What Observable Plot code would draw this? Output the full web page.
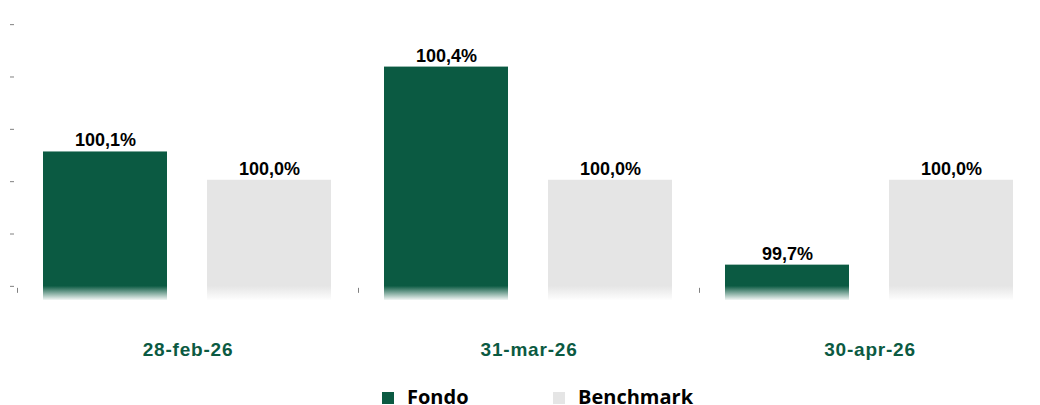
<!DOCTYPE html>
<html><head><meta charset="utf-8">
<script src="https://cdn.jsdelivr.net/npm/d3@7"></script>
<script src="https://cdn.jsdelivr.net/npm/@observablehq/plot@0.6"></script>
<style>
html,body{margin:0;padding:0;background:#fff;overflow:hidden;}
#legend{position:relative;height:26px;padding-top:0;font-family:"Open Sans",sans-serif;font-weight:700;font-size:20px;line-height:20px;color:#000;}
.item{position:absolute;top:7px;white-space:nowrap;}
.sw{display:inline-block;width:12px;height:12px;margin-right:13px;}
</style></head><body>
<div id="chart"></div>
<div id="legend"></div>
<script>
// ---- data ----
const dates = ["28-feb-26", "31-mar-26", "30-apr-26"];
const series = ["Fondo", "Benchmark"];
const fondo = [100.1, 100.4, 99.7];
const benchmark = [100.0, 100.0, 100.0];
const yTicks = [99.625, 99.81, 99.995, 100.18, 100.365, 100.55];
const axisBase = 99.625;   // where the solid bar ends and the fade begins
const fadeEnd = 99.575;    // bottom of the faded bar foot
const xAxisAt = 99.618;    // level of category boundary tick marks
const yTop = 100.6;
const colors = {Fondo: "#0b5a42", Benchmark: "#e5e5e5"};

const data = dates.flatMap((d, i) => [
  {date: d, series: series[0], value: fondo[i]},
  {date: d, series: series[1], value: benchmark[i]}
]);
const fmt = v => v.toFixed(1).replace(".", ",") + "%";

const chart = Plot.plot({
  width: 1040, height: 380,
  marginLeft: 17, marginRight: 0, marginTop: 10, marginBottom: 80,
  style: {fontFamily: "'Liberation Sans', Arial, sans-serif", background: "#fff", overflow: "visible"},
  fx: {domain: dates, padding: 0, label: null},
  x: {domain: series, paddingInner: 40 / 165, paddingOuter: 26 / 165, axis: null, label: null},
  y: {domain: [fadeEnd, yTop], axis: null, label: null},
  marks: [
    Plot.barY(data.filter(d => d.series === "Fondo"), {fx: "date", x: "series", y1: d => fadeEnd, y2: "value", fill: "url(#gFondo)"}),
    Plot.barY(data.filter(d => d.series === "Benchmark"), {fx: "date", x: "series", y1: d => fadeEnd, y2: "value", fill: "url(#gBench)"}),
    Plot.text(data, {fx: "date", x: "series", y: "value", text: d => fmt(d.value), lineAnchor: "bottom", dy: -5.5, fontSize: 18, fontWeight: "bold", fill: "#000"}),
    Plot.axisY(yTicks, {tickSize: 4, tickFormat: () => "", stroke: "#808080", dx: -3, label: null}),
    Plot.axisFx({anchor: "bottom", tickSize: 0, tickPadding: 42, fontSize: 19, fontWeight: "bold", color: "#0b5a42", label: null})
  ]
});

const svg = d3.select(chart);
const ys = chart.scale("y"), fxs = chart.scale("fx");
const y0 = ys.apply(axisBase), y1 = ys.apply(fadeEnd);
const defs = svg.insert("defs", ":first-child");
function grad(id, color) {
  const g = defs.append("linearGradient").attr("id", id).attr("gradientUnits", "userSpaceOnUse")
    .attr("x1", 0).attr("x2", 0).attr("y1", y0).attr("y2", y1);
  g.append("stop").attr("offset", 0).attr("stop-color", color);
  g.append("stop").attr("offset", 1).attr("stop-color", color).attr("stop-opacity", 0.05);
}
grad("gFondo", colors.Fondo);
grad("gBench", colors.Benchmark);

// category boundary tick marks
const yb = ys.apply(xAxisAt);
svg.append("g").attr("stroke", "#808080").selectAll("line").data(dates).join("line")
  .attr("x1", d => fxs.apply(d) + 0.5).attr("x2", d => fxs.apply(d) + 0.5)
  .attr("y1", yb).attr("y2", yb + 5);

svg.selectAll('g[aria-label="fx-axis tick label"] text').style("letter-spacing", "0.8px");

document.getElementById("chart").appendChild(chart);

// legend
const leg = d3.select("#legend");
const pos = {Fondo: 382, Benchmark: 553};
series.forEach(s => {
  const it = leg.append("div").attr("class", "item").style("left", pos[s] + "px");
  it.append("span").attr("class", "sw").style("background", colors[s]);
  it.append("span").text(s);
});
</script>
</body></html>
